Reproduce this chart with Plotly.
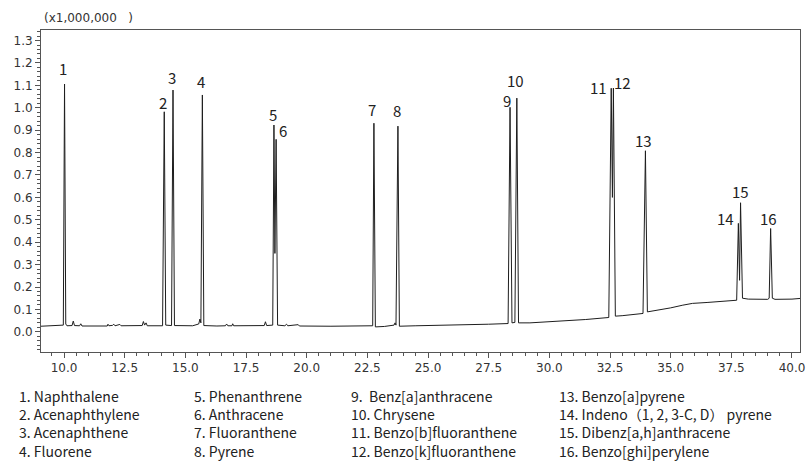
import plotly.graph_objects as go

# Chromatogram of 16 PAH standards, signal in units of 1,000,000 counts
compounds = [
    "1. Naphthalene", "2. Acenaphthylene", "3. Acenaphthene", "4. Fluorene",
    "5. Phenanthrene", "6. Anthracene", "7. Fluoranthene", "8. Pyrene",
    "9.\u00a0\u00a0Benz[a]anthracene", "10. Chrysene", "11. Benzo[b]fluoranthene",
    "12. Benzo[k]fluoranthene", "13. Benzo[a]pyrene",
    "14. Indeno（1, 2, 3-C, D）\u00a0pyrene", "15. Dibenz[a,h]anthracene",
    "16. Benzo[ghi]perylene",
]
peak_numbers = [str(i) for i in range(1, 17)]
peak_rt = [10.02, 14.13, 14.49, 15.70, 18.65, 18.74, 22.77, 23.76,
           28.38, 28.66, 32.55, 32.64, 33.96, 37.79, 37.88, 39.12]
peak_height = [1.106, 0.982, 1.079, 1.057, 0.923, 0.859, 0.931, 0.918,
               1.002, 1.043, 1.087, 1.088, 0.808, 0.484, 0.576, 0.461]

# Baseline, peak feet, valleys and small impurity bumps
baseline_rt = [
    9.05, 9.5, 9.9, 9.97, 10.07, 10.12, 10.33, 10.38, 10.43, 10.64, 10.69, 10.74,
    11.2, 11.78, 11.81, 11.85, 12.0, 12.05, 12.1, 12.3, 12.35, 12.8, 13.22, 13.27,
    13.32, 13.38, 13.43, 14.06, 14.19, 14.43, 14.55, 15.3, 15.55, 15.6, 15.64,
    15.76, 16.3, 16.65, 16.7, 16.75, 16.92, 16.95, 16.99, 17.8, 18.25, 18.3, 18.35,
    18.6, 18.69, 18.8, 19.1, 19.17, 19.22, 19.65, 19.7, 21.0, 22.3, 22.72, 22.83,
    23.2, 23.6, 23.64, 23.68, 23.82, 24.5, 26.0, 27.5, 28.3, 28.46, 28.58, 28.73,
    29.2, 30.6, 31.5, 32.45, 32.6, 32.72, 33.0, 33.86, 34.04, 34.5, 35.0, 35.5,
    35.9, 36.5, 36.9, 37.5, 37.72, 37.84, 37.96, 38.2, 39.0, 39.06, 39.19, 39.3,
    40.0, 40.33,
]
baseline_val = [
    0.025, 0.026, 0.027, 0.030, 0.035, 0.027, 0.028, 0.048, 0.028, 0.027, 0.036, 0.026,
    0.027, 0.026, 0.034, 0.027, 0.029, 0.034, 0.027, 0.033, 0.027, 0.026, 0.028, 0.046,
    0.030, 0.040, 0.027, 0.027, 0.030, 0.028, 0.028, 0.027, 0.035, 0.057, 0.040,
    0.028, 0.026, 0.027, 0.035, 0.027, 0.027, 0.036, 0.027, 0.027, 0.028, 0.045, 0.028,
    0.030, 0.350, 0.030, 0.027, 0.034, 0.027, 0.032, 0.026, 0.025, 0.026, 0.027, 0.022,
    0.024, 0.030, 0.040, 0.030, 0.025, 0.027, 0.029, 0.034, 0.037, 0.040, 0.042, 0.040,
    0.040, 0.048, 0.055, 0.064, 0.600, 0.070, 0.072, 0.082, 0.089, 0.097, 0.107, 0.119,
    0.127, 0.131, 0.134, 0.138, 0.141, 0.230, 0.150, 0.146, 0.145, 0.150, 0.150, 0.145,
    0.146, 0.149,
]

x_ticks = [10.0, 12.5, 15.0, 17.5, 20.0, 22.5, 25.0, 27.5, 30.0, 32.5, 35.0, 37.5, 40.0]
x_tick_text = ["10.0", "12.5", "15.0", "17.5", "20.0", "22.5", "25.0", "27.5",
               "30.0", "32.5", "35.0", "37.5", "40.0"]
y_ticks = [0.0, 0.1, 0.2, 0.3, 0.4, 0.5, 0.6, 0.7, 0.8, 0.9, 1.0, 1.1, 1.2, 1.3]

# Merge peak apexes into the baseline record
points = sorted(zip(baseline_rt + peak_rt, baseline_val + peak_height))
rt = [p[0] for p in points]
signal = [p[1] for p in points]

fig = go.Figure()
fig.add_trace(go.Scatter(
    x=rt, y=signal, mode="lines",
    line=dict(color="#1e1e1e", width=1),
    hoverinfo="skip", showlegend=False,
))

# Peak number labels: pixel offsets of the label centre from each apex
label_offsets = [(-2, -16), (-1, -9), (-1, -13), (-1, -13), (-1, -11), (7, -9),
                 (-2, -14), (-1, -16), (-3, -7), (-1, -18), (-13, -1), (9, -6),
                 (-2, -10), (-13, -5), (0, -11), (-2, -10)]
annotations = []
for num, t, h, (dx, dy) in zip(peak_numbers, peak_rt, peak_height, label_offsets):
    annotations.append(dict(
        x=t, y=h, xref="x", yref="y", text=num, showarrow=False,
        xshift=dx, yshift=-dy, xanchor="center", yanchor="middle", borderpad=0,
        font=dict(family="Noto Sans CJK SC", size=15, color="#222"),
    ))

# Scale note above the y axis
annotations.append(dict(
    x=0, y=1, xref="paper", yref="paper", xanchor="left", yanchor="bottom",
    yshift=3, xshift=1, showarrow=False,
    text="(x1,000,000\u00a0\u00a0\u00a0)",
    font=dict(family="DejaVu Sans", size=12, color="#333"),
))

# Compound list below the chart, four columns of four rows
plot_left, plot_right, plot_top, plot_bottom = 41, 800, 30, 352
col_px = [18, 193, 350, 558]
block_mid_px = 423.5
for col in range(4):
    annotations.append(dict(
        x=(col_px[col] - plot_left) / (plot_right - plot_left),
        y=(plot_bottom - block_mid_px) / (plot_bottom - plot_top),
        xref="paper", yref="paper", xanchor="left", yanchor="middle",
        align="left", showarrow=False, borderpad=0,
        text="<br>".join(compounds[col * 4:(col + 1) * 4]),
        font=dict(family="Noto Sans CJK SC", size=14, color="#222"),
    ))

axis_common = dict(
    showline=True, linecolor="#555", linewidth=1, mirror=True,
    ticks="outside", ticklen=5, tickcolor="#555", tickwidth=1,
    showgrid=False, zeroline=False, automargin=False,
    tickfont=dict(family="DejaVu Sans", size=12, color="#333"),
)
fig.update_layout(
    width=806, height=463,
    margin=dict(l=plot_left, r=806 - plot_right, t=plot_top, b=463 - plot_bottom,
                pad=0, autoexpand=False),
    paper_bgcolor="white", plot_bgcolor="white",
    xaxis=dict(range=[9.05, 40.33], tickvals=x_ticks, ticktext=x_tick_text,
               minor=dict(dtick=0.5, tick0=10, ticks="outside", ticklen=3,
                          tickcolor="#555"),
               **axis_common),
    yaxis=dict(range=[-0.09, 1.347], tickvals=y_ticks, tickformat=".1f",
               minor=dict(dtick=0.02, tick0=0, ticks="outside", ticklen=3,
                          tickcolor="#555"),
               **axis_common),
    annotations=annotations,
)

fig.write_html("out.html")
